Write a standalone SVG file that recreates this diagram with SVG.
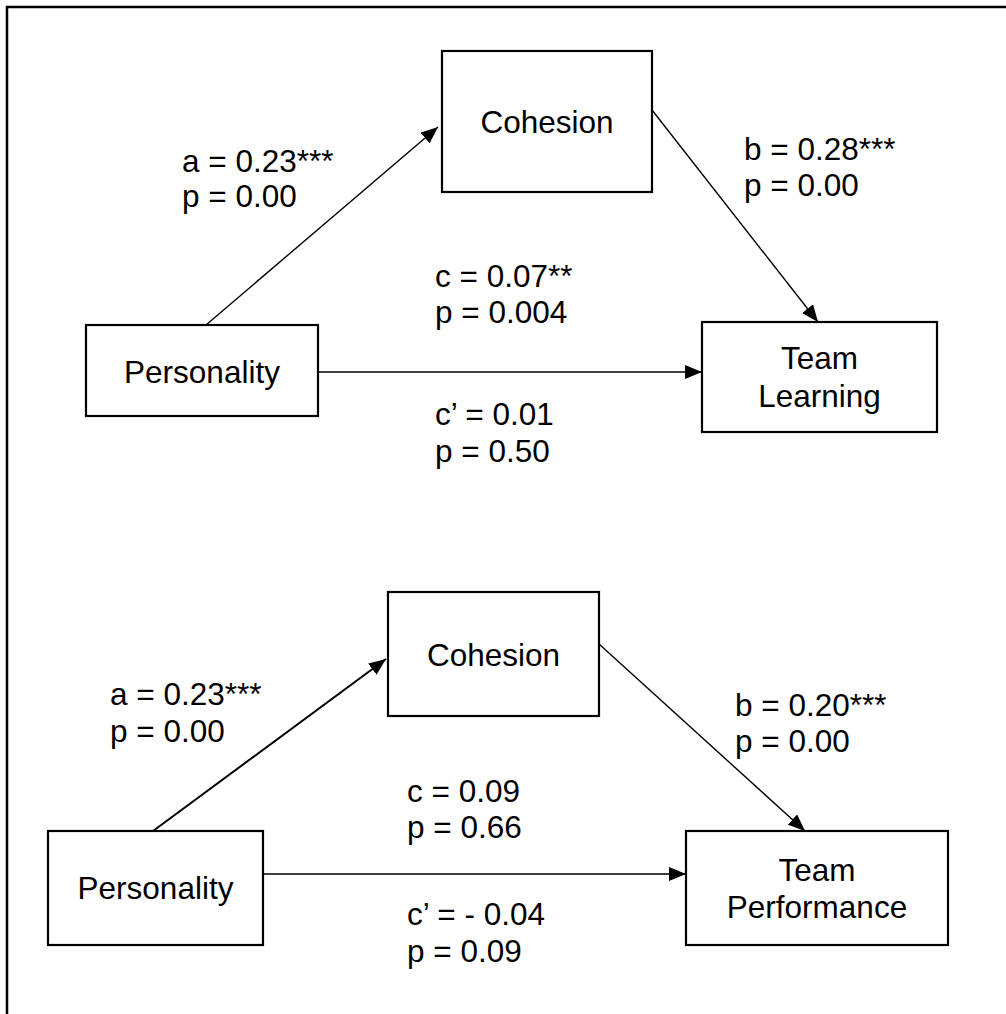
<svg xmlns="http://www.w3.org/2000/svg" width="1006" height="1014" viewBox="0 0 1006 1014">
  <style>
    text { font-family: "Liberation Sans", Arial, sans-serif; font-size: 31.5px; fill: #000; }
    .node rect { fill: #fff; stroke: #000; stroke-width: 2.2; }
    .node text { text-anchor: middle; }
    .conn line { stroke: #000; stroke-width: 1.4; }
    .conn line.thick { stroke-width: 2; }
    .frame { stroke: #000; stroke-width: 2.5; fill: none; }
  </style>
  <defs>
    <marker id="arrow" markerUnits="userSpaceOnUse" markerWidth="18" markerHeight="14" refX="17" refY="7" orient="auto">
      <path d="M0,0 L17,7 L0,14 z" fill="#000"/>
    </marker>
  </defs>
  <rect width="1006" height="1014" fill="#fff"/>
  <!-- page frame -->
  <path class="frame" d="M7,1014 V7 H1006"/>

  <!-- connectors -->
  <g id="connectors" class="conn">
    <line x1="206" y1="325" x2="438" y2="127" marker-end="url(#arrow)"/>
    <line x1="652" y1="110" x2="818" y2="322" marker-end="url(#arrow)"/>
    <line x1="318" y1="372" x2="702" y2="372" marker-end="url(#arrow)"/>
    <line class="thick" x1="153" y1="831" x2="386" y2="659" marker-end="url(#arrow)"/>
    <line x1="599" y1="644" x2="805" y2="831" marker-end="url(#arrow)"/>
    <line x1="263" y1="874" x2="686" y2="874" marker-end="url(#arrow)"/>
  </g>

  <!-- model 1 -->
  <g id="cohesion1" class="node">
    <rect x="442" y="51" width="210" height="141"/>
    <text x="547" y="133">Cohesion</text>
  </g>
  <g id="personality1" class="node">
    <rect x="86" y="325" width="232" height="91"/>
    <text x="202" y="383">Personality</text>
  </g>
  <g id="teamLearning" class="node">
    <rect x="702" y="322" width="235" height="110"/>
    <text x="819.5" y="369">Team</text>
    <text x="819.5" y="407">Learning</text>
  </g>

  <g id="labels1">
    <text x="182" y="172">a = 0.23***</text>
    <text x="182" y="207">p = 0.00</text>
    <text x="744" y="160">b = 0.28***</text>
    <text x="744" y="196">p = 0.00</text>
    <text x="435" y="287">c = 0.07**</text>
    <text x="435" y="323">p = 0.004</text>
    <text x="435" y="425">c’ = 0.01</text>
    <text x="435" y="462">p = 0.50</text>
  </g>

  <!-- model 2 -->
  <g id="cohesion2" class="node">
    <rect x="388" y="592" width="211" height="124"/>
    <text x="493.5" y="666">Cohesion</text>
  </g>
  <g id="personality2" class="node">
    <rect x="48" y="831" width="215" height="114"/>
    <text x="155.5" y="899">Personality</text>
  </g>
  <g id="teamPerformance" class="node">
    <rect x="686" y="831" width="262" height="114"/>
    <text x="817" y="881">Team</text>
    <text x="817" y="918">Performance</text>
  </g>

  <g id="labels2">
    <text x="110" y="705">a = 0.23***</text>
    <text x="110" y="742">p = 0.00</text>
    <text x="735" y="716">b = 0.20***</text>
    <text x="735" y="752">p = 0.00</text>
    <text x="407" y="802">c = 0.09</text>
    <text x="407" y="838">p = 0.66</text>
    <text x="407" y="925">c’ = - 0.04</text>
    <text x="407" y="962">p = 0.09</text>
  </g>
</svg>
